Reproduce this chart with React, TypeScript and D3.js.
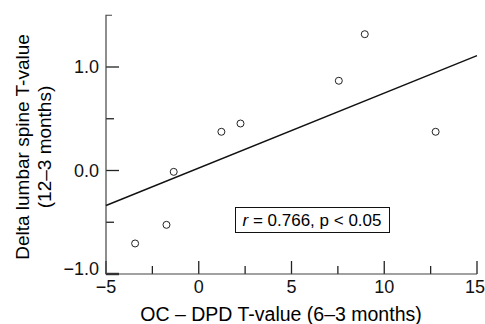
import React, { useEffect, useRef } from 'react';
import * as d3 from 'd3';

// OC - DPD T-value (6-3 months)
const ocDpd = [-3.43, -1.74, -1.35, 1.22, 2.25, 7.55, 8.95, 12.77];
// Delta lumbar spine T-value (12-3 months)
const deltaSpine = [-0.705, -0.525, -0.013, 0.374, 0.454, 0.867, 1.317, 0.374];

const xMajor = [-5, 0, 5, 10, 15];
const xMinor = [-2.5, 2.5, 7.5, 12.5];
const yMajor = [-1.0, 0.0, 1.0];
const yMinor = [-0.5, 0.5];

// fitted line ends
const fitX = [-5, 15];
const fitY = [-0.338, 1.11];

const App = () => {
  const x = d3.scaleLinear().domain([-5, 15]).range([106, 477]);
  const y = d3.scaleLinear().domain([-1, 1]).range([274, 67]);
  const font = 'Arial, "Liberation Sans", sans-serif';
  const minus = (s: string) => s.replace('-', '\u2212');
  const x0 = x(-5);
  const yb = y(-1);

  return (
    <svg width={485} height={324}
      style={{ position: 'absolute', left: 0, top: 0, background: 'white' }}>
      {/* x ticks */}
      {xMajor.map(d => (
        <path key={'xM' + d} d={`M${x(d)},${yb}V${yb - 13}`} stroke="#222" strokeWidth={1.3} fill="none" />
      ))}
      {xMinor.map(d => (
        <path key={'xm' + d} d={`M${x(d)},${yb}V${yb - 8}`} stroke="#222" strokeWidth={1.3} fill="none" />
      ))}
      {xMajor.map(d => (
        <text key={'xl' + d} x={d === 15 ? 485 : x(d)} y={293}
          textAnchor={d === 15 ? 'end' : 'middle'}
          style={{ fontFamily: font, fontSize: 18 }} fill="#111">{minus(String(d))}</text>
      ))}

      {/* y ticks */}
      {yMajor.map(d => (
        <path key={'yM' + d} d={`M${x0},${y(d)}H${x0 + 13}`} stroke="#222"
          strokeWidth={d === -1 ? 2.4 : 1.3} fill="none" />
      ))}
      {yMinor.map(d => (
        <path key={'ym' + d} d={`M${x0},${y(d)}H${x0 + 8}`} stroke="#222" strokeWidth={1.3} fill="none" />
      ))}
      {yMajor.map(d => (
        <text key={'yl' + d} x={99} y={y(d) + (d === -1 ? 1 : 6)} textAnchor="end"
          style={{ fontFamily: font, fontSize: 18 }} fill="#111">{minus(d.toFixed(1))}</text>
      ))}

      {/* axis lines */}
      <path d={`M${x0 + 6},${y(1.5)}H${x0}V${yb}H${x(15)}`} fill="none" stroke="#444" strokeWidth={1.2} />

      {/* regression line */}
      <line x1={x(fitX[0])} y1={y(fitY[0])} x2={x(fitX[1])} y2={y(fitY[1])} stroke="#111" strokeWidth={1.4} />

      {/* points */}
      {ocDpd.map((d, i) => (
        <circle key={'p' + i} cx={x(d)} cy={y(deltaSpine[i])} r={3.5} fill="white" stroke="#222" strokeWidth={1} />
      ))}

      {/* annotation */}
      <rect x={235.5} y={207.5} width={154} height={25} fill="white" stroke="#111" strokeWidth={1} />
      <text x={312} y={226} textAnchor="middle" style={{ fontFamily: font, fontSize: 17 }}>
        <tspan fontStyle="italic">r</tspan>
        <tspan>{' = 0.766, p < 0.05'}</tspan>
      </text>

      {/* axis titles */}
      <text x={281} y={321} textAnchor="middle" style={{ fontFamily: font, fontSize: 19.5 }}>
        OC {'\u2013'} DPD T-value (6{'\u2013'}3 months)
      </text>
      <text transform="translate(29,147) rotate(-90)" textAnchor="middle" style={{ fontFamily: font, fontSize: 19 }}>
        <tspan x={0} y={0}>Delta lumbar spine T-value</tspan>
        <tspan x={0} y={22}>(12{'\u2013'}3 months)</tspan>
      </text>
    </svg>
  );
};

export default App;
